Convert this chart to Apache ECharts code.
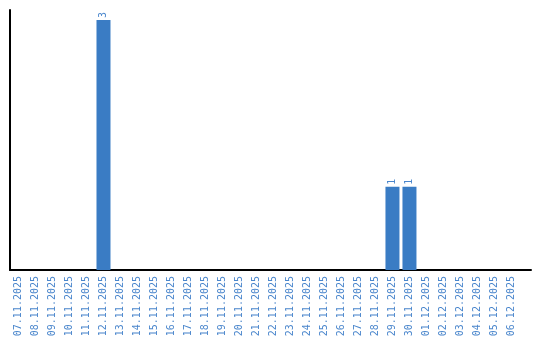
<!DOCTYPE html>
<html><head><meta charset="utf-8">
<script src="https://cdn.jsdelivr.net/npm/echarts@6/dist/echarts.min.js"></script>
<style>html,body{margin:0;padding:0;background:#fff}#c{width:540px;height:340px}</style>
</head><body><div id="c"></div>
<script>
const dates = ["07.11.2025","08.11.2025","09.11.2025","10.11.2025","11.11.2025","12.11.2025","13.11.2025","14.11.2025","15.11.2025","16.11.2025","17.11.2025","18.11.2025","19.11.2025","20.11.2025","21.11.2025","22.11.2025","23.11.2025","24.11.2025","25.11.2025","26.11.2025","27.11.2025","28.11.2025","29.11.2025","30.11.2025","01.12.2025","02.12.2025","03.12.2025","04.12.2025","05.12.2025","06.12.2025"];
const counts = [0,0,0,0,0,3,0,0,0,0,0,0,0,0,0,0,0,0,0,0,0,0,1,1,0,0,0,0,0,0];
const barData = counts.map((v,i)=> v>0 ? [i,v] : null).filter(d=>d);
const chart = echarts.init(document.getElementById('c'));
chart.setOption({
  animation:false,
  grid:{left:10,right:9,top:10,bottom:70,containLabel:false},
  xAxis:{type:'value',min:-0.5,max:30.15,interval:0.5,
    axisLine:{show:true,onZero:false,lineStyle:{color:'#000',width:2}},
    axisTick:{show:false},splitLine:{show:false},
    axisLabel:{rotate:90,margin:6,color:'#4a86cc',fontFamily:'DejaVu Sans Mono',fontSize:10,
      showMinLabel:true,showMaxLabel:false,
      formatter:v=>{const i=Math.round(v);return (Math.abs(v-i)<1e-6&&i>=0&&i<dates.length)?dates[i]:'';}}},
  yAxis:{type:'value',min:0,max:3.12,
    axisLine:{show:true,onZero:false,lineStyle:{color:'#000',width:2}},
    axisTick:{show:false},axisLabel:{show:false},splitLine:{show:false}},
  series:[{type:'bar',data:barData,barWidth:14,
    itemStyle:{color:'#3a7cc4'},
    label:{show:true,position:'top',rotate:90,align:'left',verticalAlign:'middle',distance:2,
      color:'#4a86cc',fontFamily:'DejaVu Sans Mono',fontSize:10,formatter:p=>p.value[1]}}]
});
</script></body></html>
